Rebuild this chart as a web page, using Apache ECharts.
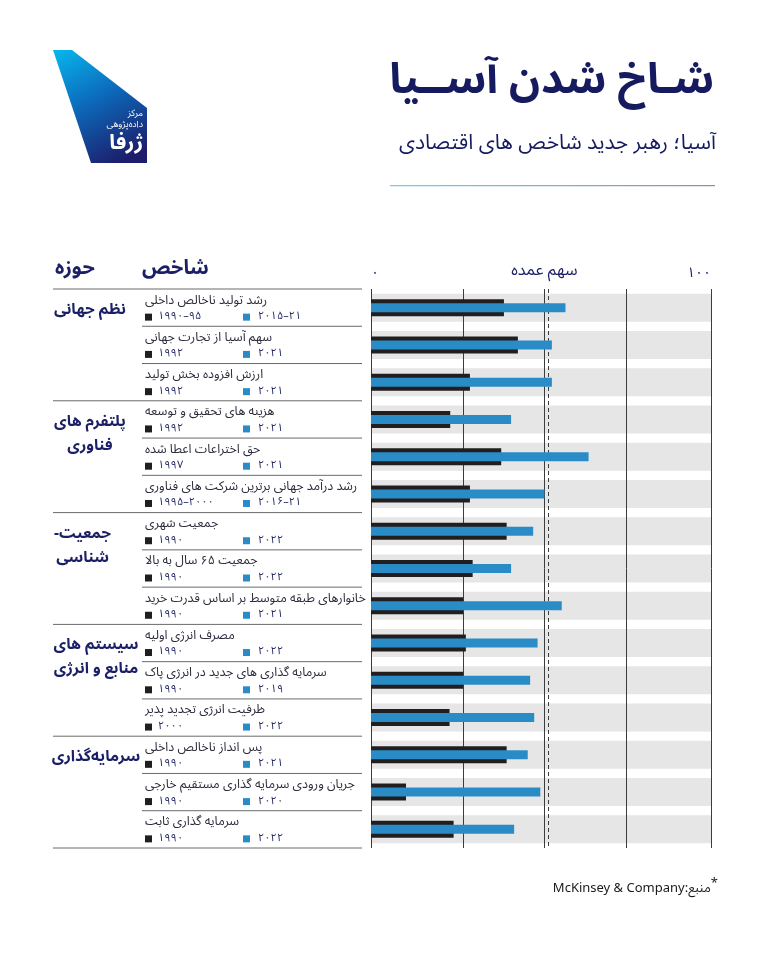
<!DOCTYPE html>
<html>
<head>
<meta charset="utf-8">
<script src="https://cdn.jsdelivr.net/npm/echarts@6/dist/echarts.min.js"></script>
<style>
html,body{margin:0;padding:0;background:#fff;}
#chart{width:768px;height:960px;}
</style>
</head>
<body>
<div id="chart"></div>
<script>
// ---------- data ----------
const indicators = [
  'رشد تولید ناخالص داخلی',
  'سهم آسیا از تجارت جهانی',
  'ارزش افزوده بخش تولید',
  'هزینه های تحقیق و توسعه',
  'حق اختراعات اعطا شده',
  'رشد درآمد جهانی برترین شرکت های فناوری',
  'جمعیت شهری',
  'جمعیت ۶۵ سال به بالا',
  'خانوارهای طبقه متوسط بر اساس قدرت خرید',
  'مصرف انرژی اولیه',
  'سرمایه گذاری های جدید در انرژی پاک',
  'ظرفیت انرژی تجدید پذیر',
  'پس انداز ناخالص داخلی',
  'جریان ورودی سرمایه گذاری مستقیم خارجی',
  'سرمایه گذاری ثابت'
];
const oldYears = ['۱۹۹۰–۹۵','۱۹۹۲','۱۹۹۲','۱۹۹۲','۱۹۹۷','۱۹۹۵–۲۰۰۰','۱۹۹۰','۱۹۹۰','۱۹۹۰','۱۹۹۰','۱۹۹۰','۲۰۰۰','۱۹۹۰','۱۹۹۰','۱۹۹۰'];
const newYears = ['۲۰۱۵–۲۱','۲۰۲۱','۲۰۲۱','۲۰۲۱','۲۰۲۱','۲۰۱۶–۲۱','۲۰۲۲','۲۰۲۲','۲۰۲۱','۲۰۲۲','۲۰۱۹','۲۰۲۲','۲۰۲۱','۲۰۲۰','۲۰۲۲'];
const oldShare = [39.1, 43.2, 29.1, 23.3, 38.3, 29.1, 39.9, 29.9, 27.1, 27.9, 27.1, 23.1, 39.9, 10.3, 24.3];
const newShare = [57.2, 53.2, 53.2, 41.2, 64.0, 51.0, 47.7, 41.2, 56.1, 49.0, 46.8, 48.0, 46.1, 49.8, 42.1];
const fullScale = [100,100,100,100,100,100,100,100,100,100,100,100,100,100,100];
const groupNames = [['نظم جهانی'], ['پلتفرم های','فناوری'], ['جمعیت-\u200F','شناسی'], ['سیستم های','منابع و انرژی'], ['سرمایه‌گذاری']];
const groupFirstRow = [0, 3, 6, 9, 12];
const gridValues = [0, 27, 51, 75, 100];
const majorShareLine = 52;
const axisTitle = 'سهم عمده';

const titleText = 'شـاخ شدن آســیا';
const subtitleText = 'آسیا؛ رهبر جدید شاخص های اقتصادی';
const sourceText = 'McKinsey & Company:منبع';

// ---------- style ----------
const FONT = '"Noto Sans Arabic", Vazirmatn, "DejaVu Sans", sans-serif';
const NAVY = '#1a1f66';
const BLUE = '#2a8cc6';
const BLACK = '#221e1f';
const GREY = '#e6e6e6';
const LRM = '\u200E';
const toFa = s => String(s).replace(/\d/g, d => '۰۱۲۳۴۵۶۷۸۹'[d]);

const chart = echarts.init(document.getElementById('chart'), null, {renderer: 'canvas'});

const yAxisBase = {type: 'category', data: indicators, inverse: true, show: false};
const option = {
  animation: false,
  backgroundColor: '#ffffff',
  grid: {left: 371, right: 57, top: 289, bottom: 112, containLabel: false},
  xAxis: {
    type: 'value', min: 0, max: 100, interval: 100, position: 'top',
    axisLine: {show: false}, axisTick: {show: false}, splitLine: {show: false},
    axisLabel: {
      color: NAVY, fontSize: 14, fontFamily: FONT, margin: 7,
      formatter: v => toFa(v), alignMinLabel: 'left', alignMaxLabel: 'right'
    }
  },
  yAxis: [Object.assign({}, yAxisBase), Object.assign({}, yAxisBase), Object.assign({}, yAxisBase)],
  series: [
    {
      type: 'bar', yAxisIndex: 0, data: fullScale, barWidth: 28, silent: true, z: 1,
      itemStyle: {color: GREY},
      markLine: {
        silent: true, symbol: 'none', label: {show: false}, z: 2,
        lineStyle: {color: '#3c3c3c', width: 1, type: 'solid'},
        data: gridValues.map(v => ({xAxis: v})).concat([{xAxis: majorShareLine, lineStyle: {type: [4, 3], color: '#3c3c3c', width: 1}}])
      }
    },
    {type: 'bar', yAxisIndex: 1, data: oldShare, barWidth: 17, z: 3, itemStyle: {color: BLACK}},
    {type: 'bar', yAxisIndex: 2, data: newShare, barWidth: 9, z: 4, itemStyle: {color: BLUE}}
  ]
};
chart.setOption(option);

// ---------- table / decorations ----------
function txt(text, x, y, size, opts) {
  opts = opts || {};
  return {
    type: 'text', z: 10, silent: true,
    style: {
      text: text, x: x, y: y,
      fontSize: size, fontFamily: FONT, fontWeight: opts.weight || 'normal',
      fill: opts.color || NAVY,
      align: opts.align || 'left', textAlign: opts.align || 'left',
      verticalAlign: 'middle', textVerticalAlign: 'middle'
    }
  };
}
function hline(x1, x2, y, color, w) {
  return {type: 'line', z: 10, silent: true, shape: {x1: x1, y1: y, x2: x2, y2: y}, style: {stroke: color || '#6a6a6a', lineWidth: w || 1}};
}
const mctx = document.createElement('canvas').getContext('2d');
function measure(text, size, weight) {
  mctx.font = (weight || 'normal') + ' ' + size + 'px ' + FONT;
  return mctx.measureText(text).width;
}

const rowY = i => chart.convertToPixel({yAxisIndex: 0}, i);
const pitch = rowY(1) - rowY(0);
const g = [];

// logo
g.push({
  type: 'polygon', z: 5, silent: true,
  shape: {points: [[53, 50], [72, 50], [147, 108], [147, 163], [91, 163]]},
  style: {fill: {type: 'linear', x: 60, y: 50, x2: 120, y2: 163, global: true,
    colorStops: [{offset: 0, color: '#08b3ea'}, {offset: 0.45, color: '#0c6cbd'}, {offset: 1, color: '#1c1d6b'}]}}
});
g.push(txt('مرکز', 143, 115, 9, {color: '#ffffff', align: 'right'}));
g.push(txt('داده‌پژوهی', 143, 126, 9, {color: '#ffffff', align: 'right'}));
g.push(txt('ژرفا', 143, 146, 21, {color: '#ffffff', align: 'right', weight: 'bold'}));

// title
g.push(txt(titleText, 714, 87, 43, {align: 'right', weight: 'bold', color: '#161b60'}));
g.push(txt(subtitleText, 716, 146, 21, {align: 'right', color: '#161b60'}));
g.push({
  type: 'rect', z: 5, silent: true, shape: {x: 390, y: 185, width: 325, height: 1.3},
  style: {fill: {type: 'linear', x: 390, y: 0, x2: 715, y2: 0, global: true,
    colorStops: [{offset: 0, color: '#6fcdf3'}, {offset: 1, color: '#8e90ad'}]}}
});

// headers
g.push(txt('حوزه', 75, 271, 20, {align: 'center', weight: 'bold'}));
g.push(txt('شاخص', 142, 271, 20, {align: 'left', weight: 'bold'}));
g.push(txt(axisTitle, chart.convertToPixel({xAxisIndex: 0}, 51), 273, 16, {align: 'center'}));

// table rows
const top0 = rowY(0) - pitch / 2;
g.push(hline(53, 362, top0));
indicators.forEach((name, i) => {
  const yc = rowY(i);
  g.push(txt(name, 145, yc - 6, 12.5, {color: '#2b2b3a'}));
  g.push({type: 'rect', z: 10, silent: true, shape: {x: 145, y: yc + 6, width: 7, height: 7}, style: {fill: BLACK}});
  g.push(txt(LRM + oldYears[i], 158, yc + 9.8, 11, {color: '#262d66'}));
  g.push({type: 'rect', z: 10, silent: true, shape: {x: 243, y: yc + 6, width: 7, height: 7}, style: {fill: BLUE}});
  g.push(txt(LRM + newYears[i], 258, yc + 9.8, 11, {color: '#262d66'}));
  const bottom = yc + pitch / 2;
  const isGroupEnd = groupFirstRow.indexOf(i + 1) >= 0 || i === indicators.length - 1;
  g.push(hline(isGroupEnd ? 53 : 142, 362, bottom));
});

// group labels (block left-aligned at x=53, lines centred within the block)
const GSIZE = 15.5;
groupNames.forEach((lines, k) => {
  const y0 = rowY(groupFirstRow[k]) + 4;
  const w = Math.max.apply(null, lines.map(l => measure(l, GSIZE, 'bold')));
  const cx = 54 + Math.min(w, 84) / 2;
  lines.forEach((l, j) => g.push(txt(l, cx, y0 + j * 24, GSIZE, {align: 'center', weight: 'bold'})));
});

// source
g.push({
  type: 'text', z: 10, silent: true,
  style: {
    text: '{a|' + sourceText + '}{s|*}', x: 718, y: 890,
    align: 'right', textAlign: 'right', verticalAlign: 'middle', textVerticalAlign: 'middle',
    rich: {
      a: {fontSize: 13, fontFamily: FONT, fill: '#1a1a1a', color: '#1a1a1a'},
      s: {fontSize: 13, fontFamily: FONT, fill: '#1a1a1a', color: '#1a1a1a', verticalAlign: 'top', padding: [0, 0, 10, 0]}
    }
  }
});

chart.setOption({graphic: {elements: g}});
</script>
</body>
</html>
